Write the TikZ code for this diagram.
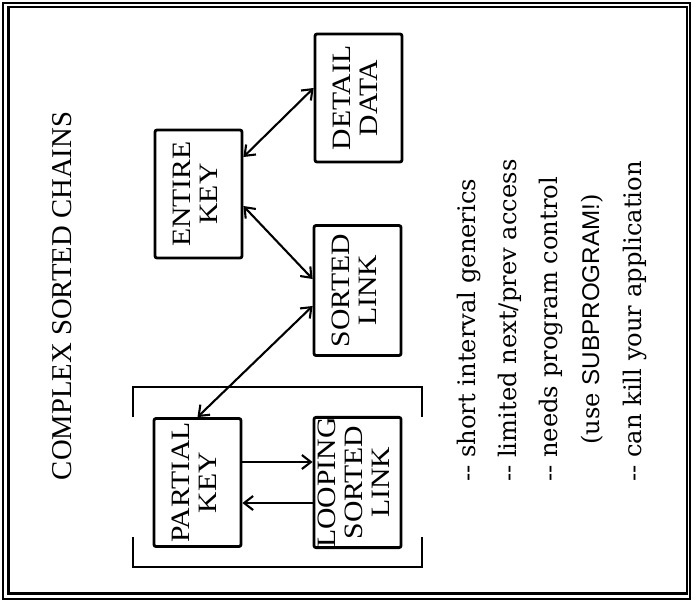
\documentclass[tikz,border=0pt]{standalone}
\usepackage{fontspec}
\setmainfont{Liberation Serif}
\newfontfamily\listfont{DejaVu Serif}
\newfontfamily\subfont{Liberation Sans}
\usetikzlibrary{arrows.meta}
\tikzset{
  box/.style={draw, line width=2.8pt, minimum width=87pt, minimum height=128pt, inner sep=0pt, rounded corners=2pt},
  link/.style={line width=2.1pt, >={Straight Barb[length=9pt,width=14pt]}},
  bracketline/.style={line width=2.5pt},
  listitem/.style={rotate=90, anchor=base west, inner sep=0pt, font=\listfont\fontsize{24.2}{25}\selectfont},
}
\newcommand{\boxlabel}[1]{\rotatebox{90}{\fontsize{26.5}{27}\selectfont\scalebox{1.12}[1]{\begin{tabular}{@{}c@{}}#1\end{tabular}}}}
\begin{document}
\begin{tikzpicture}[x=1pt,y=-1pt]
\useasboundingbox (0,0) rectangle (692,603);
\fill[white] (0,0) rectangle (692,603);
% frame
\draw[line width=1.5pt] (3,3) rectangle (690,599);
\draw[line width=2.4pt] (8.5,7) rectangle (687,593.5);
% title
\node[rotate=90, inner sep=0pt, font=\fontsize{28.7}{30}\selectfont] (title) at (62,296) {COMPLEX SORTED CHAINS};
% boxes
\node[box] (ek) at (198.5,194) {\boxlabel{ENTIRE\\KEY}};
\node[box] (dd) at (358.5,98) {\boxlabel{DETAIL\\DATA}};
\node[box, minimum height=130pt] (sl) at (357.5,290.5) {\boxlabel{SORTED\\LINK}};
\node[box] (pk) at (197.5,482.5) {\boxlabel{PARTIAL\\KEY}};
\node[box] (lsl) at (357.5,482.5) {\boxlabel{LOOPING\\SORTED\\LINK}};
% bracket
\draw[bracketline] (133,417) -- (133,387) -- (422,387) -- (422,417);
\draw[bracketline] (133,537) -- (133,567) -- (422,567) -- (422,537);
% connectors
\draw[link, <->] ([yshift=37pt]ek.east) -- ([yshift=10pt]dd.west);
\draw[link, <->] ([yshift=-12pt]ek.east) -- ([yshift=11.5pt]sl.west);
\draw[link, <->] ([yshift=-15.5pt]sl.west) -- (pk.north);
\draw[link, ->] ([yshift=20.5pt]pk.east) -- ([yshift=20.5pt]lsl.west);
\draw[link, ->] ([yshift=-20.5pt]lsl.west) -- ([yshift=-20.5pt]pk.east);
% list
\node[listitem] (l1) at (475,482) {-{}- short interval generics};
\node[listitem] (l2) at (516,482) {-{}- limited next/prev access};
\node[listitem] (l3) at (557,482) {-{}- needs program control};
\node[listitem] (l4) at (599,445) {(use {\subfont SUBPROGRAM!})};
\node[listitem] (l5) at (641,482) {-{}- can kill your application};
\end{tikzpicture}
\end{document}
